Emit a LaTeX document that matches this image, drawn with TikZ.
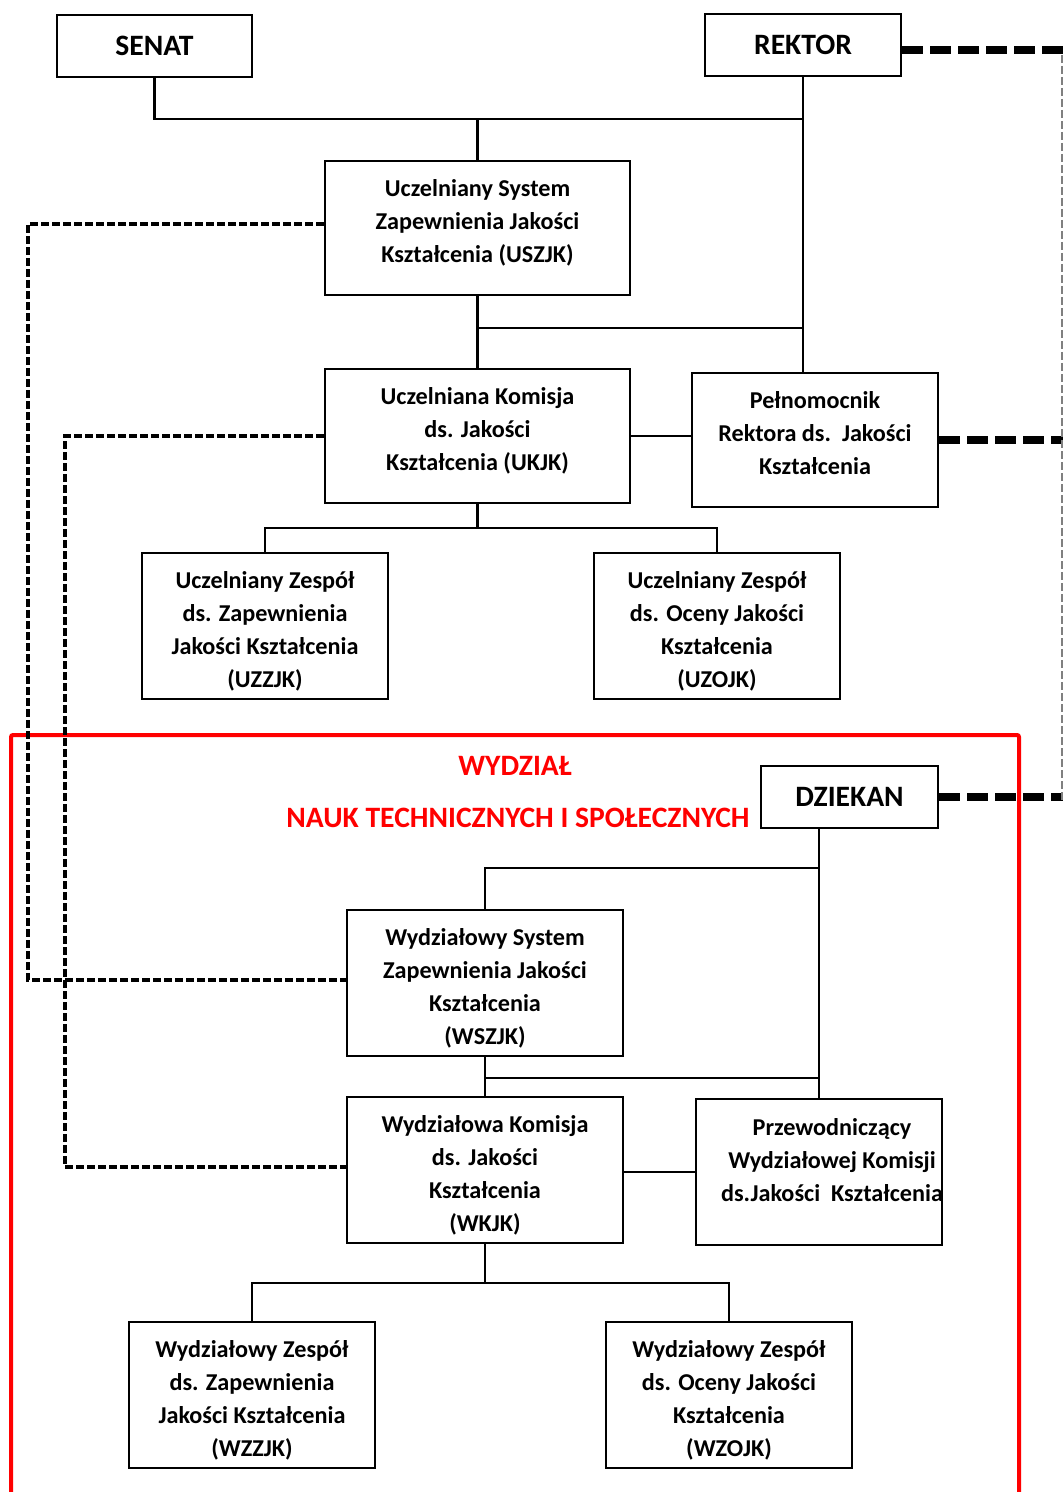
\documentclass[tikz,border=0pt]{standalone}
\usepackage{fontspec}
\setmainfont{Carlito}

\begin{document}
\begin{tikzpicture}[
    x = 0.5pt, y = -0.5pt,
    % boxes and texts
    box/.style = {draw, line width = 1.4pt, inner sep = 0pt,
      minimum width = 123pt, minimum height = 73pt},
    head/.style = {box, minimum height = 31pt,
      font = \fontsize{14.8}{17}\selectfont\bfseries},
    txt/.style = {align = center, inner sep = 0pt,
      font = \fontsize{12.1}{16.5}\selectfont\bfseries},
    faculty/.style = {text = red, inner sep = 0pt,
      font = \fontsize{14.8}{17}\selectfont\bfseries},
    % lines
    link/.style = {draw, line width = 1.4pt},
    dlink/.style = {draw, line width = 1.6pt, dash pattern = on 4pt off 1.5pt},
    bolddash/.style = {draw, line width = 3.8pt, dash pattern = on 10.5pt off 3.5pt},
    greydash/.style = {draw, gray, line width = 0.7pt, dash pattern = on 4pt off 1.5pt},
    wframe/.style = {draw, red, line width = 2pt, rounded corners = 1pt},
    ]

    \useasboundingbox (0,0) rectangle (1063,1492);

    % rails for the dashed lines and the page edge
    \coordinate (lrail) at (28,0);
    \coordinate (mrail) at (65,0);
    \coordinate (edge)  at (1063,0);

    % university level
    \node[head, minimum width = 97.5pt] (senat)  at (154.5,46) {SENAT};
    \node[head, minimum width = 98pt]   (rektor) at (803,45)   {REKTOR};

    \node[box, minimum width = 152.5pt, minimum height = 67pt] (uszjk) at (477.5,228) {};
    \node[txt] (uszjk-t) at (477.5,223) {Uczelniany System\\Zapewnienia Jakości\\Kształcenia (USZJK)};

    \node[box, minimum width = 152.5pt, minimum height = 67pt] (ukjk) at (477.5,436) {};
    \node[txt] (ukjk-t) at (477.5,431) {Uczelniana Komisja\\ds. Jakości\\Kształcenia (UKJK)};

    \node[box, minimum height = 67pt] (pelnom) at (815,440) {};
    \node[txt] (pelnom-t) at (815,433) {Pełnomocnik\\Rektora ds.\ \ Jakości\\Kształcenia};

    \node[box] (uzzjk) at (265,626) {};
    \node[txt] (uzzjk-t) at (265,631.5) {Uczelniany Zespół\\ds. Zapewnienia\\Jakości Kształcenia\\(UZZJK)};

    \node[box] (uzojk) at (717,626) {};
    \node[txt] (uzojk-t) at (717,631.5) {Uczelniany Zespół\\ds. Oceny Jakości\\Kształcenia\\(UZOJK)};

    % faculty level
    \draw[wframe] (11,1500) |- (1019,735) -- (1019,1500);
    \node[faculty] (wydz) at (515,766) {WYDZIAŁ};
    \node[faculty] (nauk) at (518,818) {NAUK TECHNICZNYCH I SPOŁECZNYCH};

    \node[head, minimum width = 88.5pt] (dziekan) at (849.5,797) {DZIEKAN};

    \node[box, minimum width = 138pt] (wszjk) at (485,983) {};
    \node[txt] (wszjk-t) at (485,988) {Wydziałowy System\\Zapewnienia Jakości\\Kształcenia\\(WSZJK)};

    \node[box, minimum width = 138pt] (wkjk) at (485,1170) {};
    \node[txt] (wkjk-t) at (485,1175.5) {Wydziałowa Komisja\\ds. Jakości\\Kształcenia\\(WKJK)};

    \node[box] (przew) at (819,1172) {};
    \node[txt] (przew-t) at (832,1160) {Przewodniczący\\Wydziałowej Komisji\\ds.Jakości\ \ Kształcenia};

    \node[box] (wzzjk) at (252,1395) {};
    \node[txt] (wzzjk-t) at (252,1400) {Wydziałowy Zespół\\ds. Zapewnienia\\Jakości Kształcenia\\(WZZJK)};

    \node[box] (wzojk) at (729,1395) {};
    \node[txt] (wzojk-t) at (729,1400) {Wydziałowy Zespół\\ds. Oceny Jakości\\Kształcenia\\(WZOJK)};

    % joints of the tree lines
    \coordinate (bus1)  at (477.5,119);
    \coordinate (bus2)  at (477.5,328);
    \coordinate (bus3)  at (477.5,528);
    \coordinate (fbus1) at (819,868);
    \coordinate (fbus2) at (819,1078);
    \coordinate (fbus3) at (485,1283);

    % university tree
    \draw[link] (senat.south) |- (bus1) -| (rektor.south);
    \draw[link] (bus1) -- (uszjk.north);
    \draw[link] (rektor.south) -- (rektor.south |- pelnom.north);
    \draw[link] (uszjk.south) -- (ukjk.north);
    \draw[link] (bus2) -- (bus2 -| rektor.south);
    \draw[link] (ukjk.east) -- (ukjk.east -| pelnom.west);
    \draw[link] (ukjk.south) -- (bus3);
    \draw[link] (uzzjk.north) |- (bus3) -| (uzojk.north);

    % faculty tree
    \draw[link] (przew.north) -- (przew.north |- dziekan.south);
    \draw[link] (wszjk.north) |- (fbus1);
    \draw[link] (wszjk.south) -- (wkjk.north);
    \draw[link] (wszjk.south |- fbus2) -- (fbus2);
    \draw[link] (wkjk.east |- przew.west) -- (przew.west);
    \draw[link] (wkjk.south) -- (fbus3);
    \draw[link] (wzzjk.north) |- (fbus3) -| (wzojk.north);

    % dashed links between the two levels
    \draw[dlink] ([yshift=2pt]uszjk.west) -- ([yshift=2pt]uszjk.west -| lrail)
      |- ([yshift=1.5pt]wszjk.west);
    \draw[dlink] (ukjk.west) -- (ukjk.west -| mrail) |- ([yshift=1.5pt]wkjk.west);

    % bold dashes out to the right edge
    \draw[bolddash] ([yshift=-2.5pt]rektor.east) -- ([yshift=-2.5pt]rektor.east -| edge);
    \draw[bolddash] (pelnom.east) -- (pelnom.east -| edge);
    \draw[bolddash] (dziekan.east) -- (dziekan.east -| edge);
    \draw[greydash] (1062,55) -- (1062,800);

\end{tikzpicture}
\end{document}
